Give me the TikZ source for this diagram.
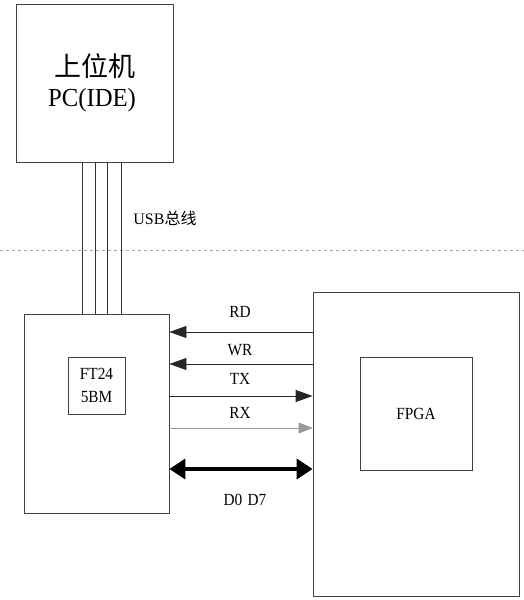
\documentclass[tikz,border=0pt]{standalone}
\usepackage{fontspec}
\setmainfont{Liberation Serif}
\newfontfamily\cjk{Noto Sans CJK SC}
\usetikzlibrary{arrows.meta}
\begin{document}
\begin{tikzpicture}[x=1pt,y=-1pt,
  box/.style={draw=black!75,line width=0.8pt,inner sep=0pt,rectangle},
  sig/.style={draw=black!85,line width=0.8pt,-{Triangle[length=17pt,width=12pt]}},
  sigl/.style={draw=black!40,line width=0.8pt,-{Triangle[length=14pt,width=11pt]}},
  bus/.style={draw=black,line width=4pt,{Triangle[length=16pt,width=20pt]}-{Triangle[length=16pt,width=20pt]}},
  lab/.style={inner sep=0pt,font=\fontsize{17}{19}\selectfont,xscale=0.9},
  wire/.style={draw=black!80,line width=0.8pt}]
\useasboundingbox (0,0) rectangle (524,600);
\fill[white] (0,0) rectangle (524,600);
% dashed separator
\draw[black!35,dashed,line width=0.6pt] (0,250) -- (524,250);
% boxes
\node[box,minimum width=157pt,minimum height=158pt] (pc) at (94.5,83) {};
\node[inner sep=0pt,font=\cjk\fontsize{27}{30}\selectfont] (pct) at (95,66) {上位机};
\node[inner sep=0pt,font=\fontsize{26}{28}\selectfont,xscale=0.95] (pcs) at (92,100) {PC(IDE)};
\node[box,minimum width=145pt,minimum height=199pt] (ft) at (96.5,413.5) {};
\node[box,minimum width=57pt,minimum height=57pt] (ftin) at (96.5,385.5) {};
\node[lab] (ftt1) at (96.5,374) {FT24};
\node[lab] (ftt2) at (96.5,397) {5BM};
\node[box,minimum width=206pt,minimum height=304pt] (fpga) at (416,444) {};
\node[box,minimum width=112pt,minimum height=113pt] (fpgain) at (416,413.5) {};
\node[lab] (fpgat) at (416,414) {FPGA};
% USB wires
\foreach \x in {82,95,107,121} {
  \draw[wire] (pc.south -| \x,0) -- (ft.north -| \x,0);
}
\node[inner sep=0pt,font=\fontsize{16}{18}\selectfont] (usb) at (165,218) {USB{\cjk 总线}};
% signals
\draw[sig] (fpga.west |- 0,332) -- (ft.east |- 0,332);
\node[lab] (rd) at (240,312) {RD};
\draw[sig] (fpga.west |- 0,364) -- (ft.east |- 0,364);
\node[lab] (wr) at (240,350) {WR};
\draw[sig] (ft.east |- 0,396) -- (fpga.west |- 0,396);
\node[lab] (tx) at (240,379) {TX};
\draw[sigl] (ft.east |- 0,428) -- (fpga.west |- 0,428);
\node[lab] (rx) at (240,413) {RX};
\draw[bus] (ft.east |- 0,469) -- (fpga.west |- 0,469);
\node[lab] (dd) at (245,500) {D0\hspace{6pt}D7};
\end{tikzpicture}
\end{document}
